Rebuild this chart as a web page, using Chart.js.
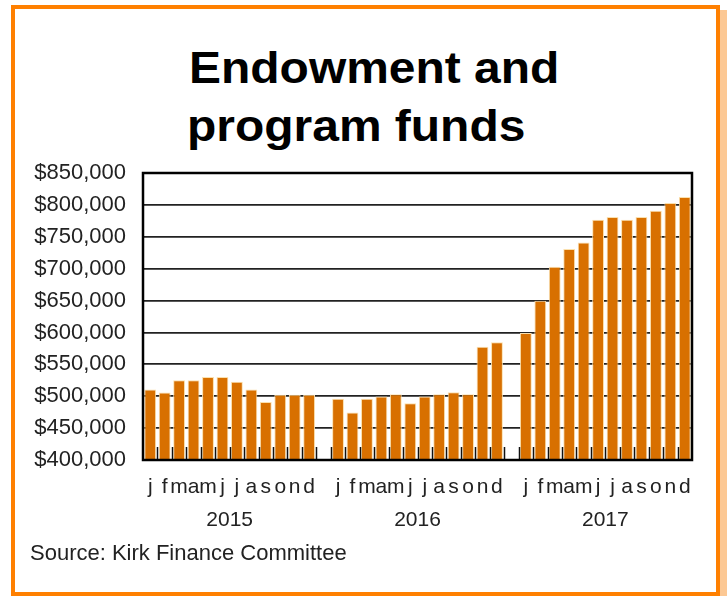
<!DOCTYPE html>
<html>
<head>
<meta charset="utf-8">
<script src="https://cdn.jsdelivr.net/npm/chart.js@4.4.1/dist/chart.umd.min.js"></script>
<style>
  html, body { margin: 0; padding: 0; background: #fff; }
  #page { position: relative; width: 727px; height: 596px; overflow: hidden; font-family: 'Liberation Sans', Arial, sans-serif; }
  #shade { position: absolute; left: 720px; top: 10px; width: 7px; height: 586px; background: #fcc894; }
  #frame { position: absolute; left: 11px; top: 5px; width: 709px; height: 591px; box-sizing: border-box; border: 4px solid #ff8000; }
  .title { position: absolute; font-size: 44px; font-weight: bold; line-height: 44px; color: #000; white-space: nowrap; transform: scaleX(1.09); transform-origin: left top; }
  #source { position: absolute; left: 30px; top: 542px; font-size: 22px; line-height: 22px; color: #222; white-space: nowrap; }
  #wrap { position: absolute; left: 0; top: 140px; width: 727px; height: 420px; }
</style>
</head>
<body>
<div id="page">
  <div id="shade"></div>
  <div id="frame"></div>
  <div class="title" style="left:189px; top:46px">Endowment and</div>
  <div class="title" style="left:187px; top:104px">program funds</div>
  <div id="wrap"><canvas id="fundsChart"></canvas></div>
  <div id="source">Source: Kirk Finance Committee</div>
</div>
<script>
// Monthly endowment + program fund balances
const MONTHS = ['j', 'f', 'm', 'a', 'm', 'j', 'j', 'a', 's', 'o', 'n', 'd']
const YEARS = ['2015', '2016', '2017']
const FUNDS_2015 = [510500, 506000, 525000, 525000, 530000, 530000, 522500, 510500, 491000, 502500, 502500, 502500]
const FUNDS_2016 = [496000, 474500, 496000, 499500, 503000, 489000, 499500, 503000, 506300, 503000, 577400, 584600]
const FUNDS_2017 = [599000, 649500, 703000, 731000, 741000, 776600, 781000, 776600, 781000, 791000, 803000, 812500]
const Y_TICKS = [400000, 450000, 500000, 550000, 600000, 650000, 700000, 750000, 800000, 850000]

const FONT = "'Liberation Sans', Arial, sans-serif"

// one empty slot between years
const labels = []
const values = []
const yearCenters = []
;[FUNDS_2015, FUNDS_2016, FUNDS_2017].forEach((series, y) => {
  if (y > 0) { labels.push(''); values.push(null) }
  const start = labels.length
  series.forEach((v, m) => { labels.push(MONTHS[m]); values.push(v) })
  yearCenters.push((start + labels.length - 1) / 2)
})

// small tick marks between categories + black plot frame
const framePlugin = {
  id: 'frame',
  afterDatasetsDraw(chart) {
    const { ctx, chartArea: a, scales: { x } } = chart
    ctx.save()
    ctx.strokeStyle = '#111'
    ctx.lineWidth = 1.5
    ctx.beginPath()
    for (let i = 1; i < labels.length; i++) {
      const px = Math.round((x.getPixelForValue(i - 1) + x.getPixelForValue(i)) / 2) + 0.5
      ctx.moveTo(px, a.bottom)
      ctx.lineTo(px, a.bottom - 13)
    }
    ctx.stroke()
    ctx.restore()
  },
  afterDraw(chart) {
    const { ctx, chartArea: a } = chart
    ctx.save()
    ctx.strokeStyle = '#000'
    ctx.lineWidth = 2.5
    ctx.strokeRect(a.left, a.top, a.right - a.left, a.bottom - a.top)
    ctx.restore()
  },
}

new Chart(document.getElementById('fundsChart'), {
  type: 'bar',
  data: {
    labels,
    datasets: [{
      label: 'Funds',
      data: values,
      backgroundColor: '#d87000',
      borderColor: '#fbe0ad',
      borderWidth: 1,
      barPercentage: 0.82,
      categoryPercentage: 1,
    }]
  },
  options: {
    responsive: true,
    maintainAspectRatio: false,
    animation: false,
    layout: { padding: { left: 0, right: 35, top: 33, bottom: 26 } },
    plugins: { legend: { display: false }, tooltip: { enabled: false } },
    scales: {
      x: {
        type: 'category',
        position: 'bottom',
        weight: 1,
        grid: { display: false, drawTicks: false },
        border: { display: false },
        ticks: { color: '#222', font: { family: FONT, size: 21 }, padding: 15, autoSkip: false, maxRotation: 0, minRotation: 0 },
        afterFit: s => { s.height = 40 },
      },
      year: {
        type: 'linear',
        position: 'bottom',
        weight: 2,
        offset: false,
        bounds: 'data',
        min: -0.5,
        max: labels.length - 0.5,
        grid: { display: false, drawTicks: false },
        border: { display: false },
        afterBuildTicks: s => { s.ticks = yearCenters.map(v => ({ value: v })) },
        ticks: { color: '#222', font: { family: FONT, size: 21 }, padding: 8, autoSkip: false, maxRotation: 0, minRotation: 0, callback: (v, i) => YEARS[i] },
        afterFit: s => { s.height = 34 },
      },
      y: {
        min: 400000,
        max: 850000,
        z: 1,
        afterBuildTicks: s => { s.ticks = Y_TICKS.map(v => ({ value: v })) },
        grid: { color: '#222', lineWidth: 1.8, drawTicks: false },
        border: { display: false },
        ticks: { color: '#222', font: { family: FONT, size: 22 }, padding: 17, callback: v => '$' + v.toLocaleString('en-US') },
        afterFit: s => { s.width = 143 },
      },
    },
  },
  plugins: [framePlugin],
})
</script>
</body>
</html>
